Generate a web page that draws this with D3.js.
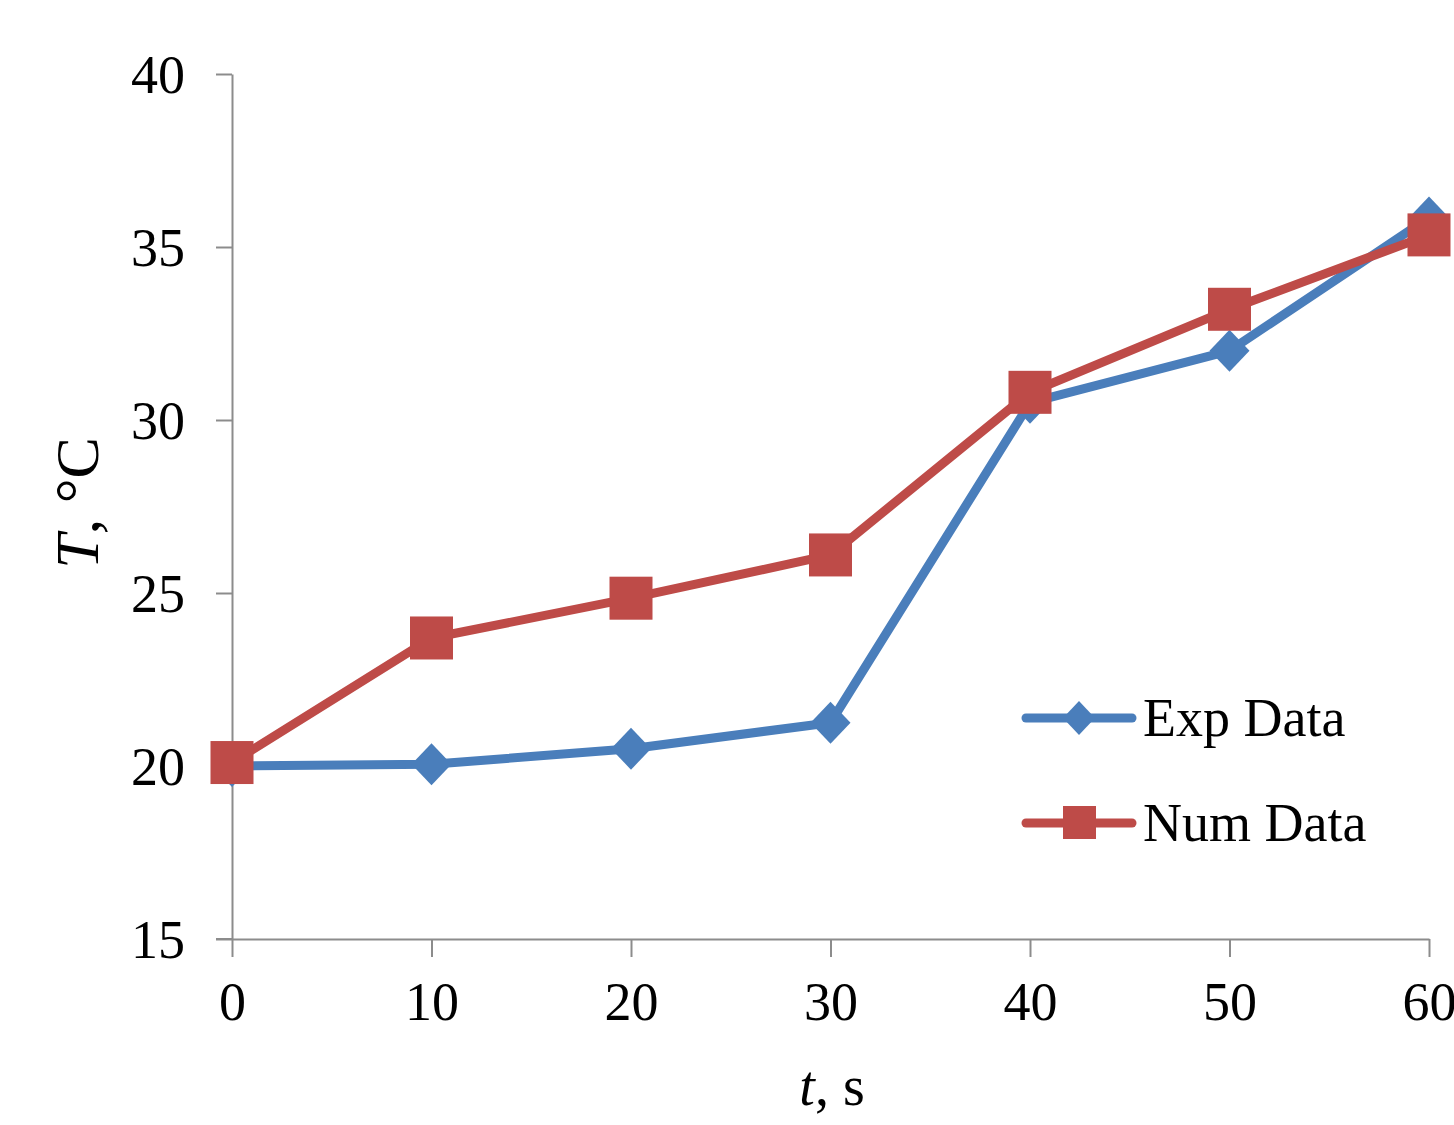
<!DOCTYPE html>
<html>
<head>
<meta charset="utf-8">
<script src="https://cdn.jsdelivr.net/npm/d3@7"></script>
<style>
  body { margin: 0; background: #fff; }
  text { font-family: "Liberation Serif", "Times New Roman", serif; fill: #000; }
</style>
</head>
<body>
<script>
// data
var times = [0, 10, 20, 30, 40, 50, 60];
var expData = [20.0, 20.05, 20.5, 21.25, 30.5, 32.0, 35.85];
var numData = [20.1, 23.7, 24.85, 26.1, 30.8, 33.2, 35.35];
var xTicks = [0, 10, 20, 30, 40, 50, 60];
var yTicks = [15, 20, 25, 30, 35, 40];

var width = 1454, height = 1125;
var plotLeft = 232, plotRight = 1429, plotTop = 74, plotBottom = 939;

var svg = d3.select("body").append("svg")
    .attr("width", width)
    .attr("height", height);

var x = d3.scaleLinear().domain([0, 60]).range([plotLeft, plotRight]);
var y = d3.scaleLinear().domain([15, 40]).range([plotBottom, plotTop]);

var axisColor = "#8c8c8c";

// y axis
var yAxis = svg.append("g")
    .attr("transform", "translate(" + plotLeft + ",0)")
    .call(d3.axisLeft(y).tickValues(yTicks).tickSize(16).tickSizeOuter(0).tickPadding(31));
// x axis
var xAxis = svg.append("g")
    .attr("transform", "translate(0," + plotBottom + ")")
    .call(d3.axisBottom(x).tickValues(xTicks).tickSize(18).tickSizeOuter(0).tickPadding(25));

[yAxis, xAxis].forEach(function(a) {
  a.select(".domain").attr("stroke", axisColor).attr("stroke-width", 2);
  a.selectAll(".tick line").attr("stroke", axisColor).attr("stroke-width", 2);
  a.selectAll(".tick text")
    .attr("fill", "#000")
    .style("font-family", "'Liberation Serif', serif")
    .style("font-size", "54px");
});
yAxis.selectAll(".tick text").attr("dy", "0.34em");
// extend x axis line to meet the y tick at 15
xAxis.append("line").attr("x1", plotLeft - 16).attr("x2", plotLeft)
  .attr("stroke", axisColor).attr("stroke-width", 2);

// axis titles
svg.append("text")
  .attr("x", 832).attr("y", 1105)
  .attr("text-anchor", "middle")
  .style("font-size", "56px")
  .html('<tspan font-style="italic">t</tspan>, s');

svg.append("text")
  .attr("transform", "translate(98,503) rotate(-90)")
  .attr("text-anchor", "middle")
  .style("font-size", "62px")
  .html('<tspan font-style="italic">T</tspan>, °C');

var blue = "#4a7ebb", red = "#be4b48";

var line = d3.line()
  .x(function(d, i) { return x(times[i]); })
  .y(function(d) { return y(d); });

var diamond = "M0,-21L20,0L0,21L-20,0Z";

// Exp series
svg.append("path").datum(expData)
  .attr("d", line).attr("fill", "none")
  .attr("stroke", blue).attr("stroke-width", 9).attr("stroke-linejoin", "round");
svg.selectAll(".exp").data(expData).enter().append("path")
  .attr("class", "exp")
  .attr("d", diamond)
  .attr("transform", function(d, i) { return "translate(" + x(times[i]) + "," + y(d) + ")"; })
  .attr("fill", blue);

// Num series
svg.append("path").datum(numData)
  .attr("d", line).attr("fill", "none")
  .attr("stroke", red).attr("stroke-width", 9).attr("stroke-linejoin", "round");
svg.selectAll(".num").data(numData).enter().append("rect")
  .attr("class", "num")
  .attr("x", function(d, i) { return x(times[i]) - 21.5; })
  .attr("y", function(d) { return y(d) - 21.5; })
  .attr("width", 43).attr("height", 43)
  .attr("fill", red);

// legend
var legend = [
  { name: "Exp Data", color: blue, y: 718, shape: "diamond" },
  { name: "Num Data", color: red, y: 823, shape: "square" }
];
legend.forEach(function(l) {
  var g = svg.append("g");
  g.append("line").attr("x1", 1026).attr("x2", 1132)
    .attr("y1", l.y).attr("y2", l.y)
    .attr("stroke", l.color).attr("stroke-width", 9).attr("stroke-linecap", "round");
  if (l.shape === "diamond") {
    g.append("path").attr("d", "M0,-17L16,0L0,17L-16,0Z")
      .attr("transform", "translate(1079," + l.y + ")").attr("fill", l.color);
  } else {
    g.append("rect").attr("x", 1063).attr("y", l.y - 17)
      .attr("width", 33).attr("height", 33).attr("fill", l.color);
  }
  g.append("text").attr("x", 1143).attr("y", l.y + 18)
    .style("font-size", "54px").text(l.name);
});
</script>
</body>
</html>
